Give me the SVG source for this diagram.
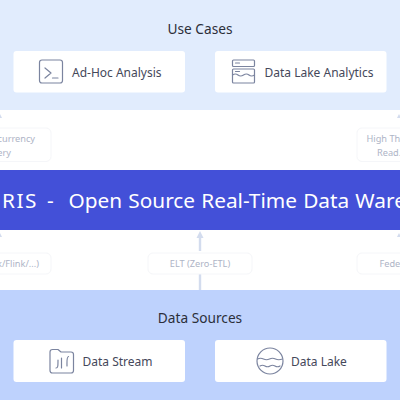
<svg xmlns="http://www.w3.org/2000/svg" width="400" height="400" viewBox="0 0 400 400">
<defs>
<style>
text{font-family:"Noto Sans","Liberation Sans",sans-serif}
.card{fill:#fff}
.head{font-size:13.700px;fill:#2c2f3a;text-anchor:middle}
.lab{font-size:12px;fill:#45485a}
.tag{font-size:9.200px;fill:#aeb4c6}
.pill{fill:#fff;stroke:#f5f6f9;stroke-width:1}
.ic{fill:none;stroke:#7b849f;stroke-width:1.2;stroke-linecap:round;stroke-linejoin:round}
.ln{stroke:#d3dcee;stroke-width:2.400;fill:none}
.ah{fill:#d3dcee}
</style>
</defs>
<rect id="usecase-band" x="0" y="0" width="400" height="110" fill="#e1ecfd"/>
<rect id="middle-band" x="0" y="110" width="400" height="180" fill="#fff"/>
<rect id="source-band" x="0" y="290" width="400" height="110" fill="#bed2fd"/>
<g id="connectors">
<path class="ln" d="M200 290V274M200 251V236"/>
<path class="ah" d="M200 231l3.500 7h-7z"/>
<path class="ah" d="M0 114l2 4h-4z"/>
<path class="ah" d="M399 114l2 4h-4z"/>
<path class="ah" d="M0 233l2 4h-4z"/>
<path class="ah" d="M399 233l2 4h-4z"/>
</g>
<text id="title-use-cases" class="head" x="200" y="34">Use Cases</text>
<g id="ad-hoc">
<rect class="card" x="13.500" y="51" width="171.500" height="41.500" rx="3"/>
<rect class="ic" x="39.500" y="60" width="23" height="23" rx="2.500"/>
<path class="ic" d="M45 68l6 5-6 5M52.500 78H58"/>
<text class="lab" x="72" y="76.500">Ad-Hoc Analysis</text>
</g>
<g id="data-lake-analytics">
<rect class="card" x="215" y="51" width="171.500" height="41.500" rx="3"/>
<rect class="ic" x="232.500" y="60" width="22" height="6.500" rx="1"/>
<rect class="ic" x="232.500" y="69" width="22" height="14" rx="1"/>
<path class="ic" d="M235.500 63h4M235.500 71.500h4M232.500 75q3-2 5.500 0t5.500 0 5.500 0 5.500 0"/>
<text class="lab" x="264.500" y="76.500">Data Lake Analytics</text>
</g>
<g id="concurrency-tag">
<rect class="pill" x="-40" y="128" width="91" height="33.500" rx="5"/>
<text class="tag" x="35" y="142" text-anchor="end">currency</text>
<text class="tag" x="11" y="156" text-anchor="end">ery</text>
</g>
<g id="throughput-tag">
<rect class="pill" x="357" y="128" width="90" height="33.500" rx="5"/>
<text class="tag" x="366.500" y="142">High Thr</text>
<text class="tag" x="377" y="156">Read.</text>
</g>
<g id="doris-banner">
<rect x="0" y="170" width="400" height="60" fill="#4350d8"/>
<text y="208" font-size="20.800px" fill="#fff"><tspan x="2" letter-spacing="1.500">RIS</tspan><tspan x="47">-</tspan><tspan x="68.500" word-spacing="0.800">Open Source Real-Time Data Ware</tspan></text>
</g>
<g id="flink-tag">
<rect class="pill" x="-40" y="253" width="91" height="21" rx="5"/>
<text class="tag" x="39" y="267" text-anchor="end">k/Flink/...)</text>
</g>
<g id="elt-tag">
<rect class="pill" x="148" y="253" width="104" height="21" rx="5"/>
<text class="tag" x="200" y="267" text-anchor="middle">ELT (Zero-ETL)</text>
</g>
<g id="federated-tag">
<rect class="pill" x="357" y="253" width="90" height="21" rx="5"/>
<text class="tag" x="379.500" y="267">Fede</text>
</g>
<text id="title-data-sources" class="head" x="200" y="323">Data Sources</text>
<g id="data-stream">
<rect class="card" x="13.500" y="340" width="171.500" height="42" rx="3"/>
<path class="ic" d="M50 352a2.500 2.500 0 0 1 2.500-2.500h5.500l3 2.500h10a2.500 2.500 0 0 1 2.500 2.500v16a2.500 2.500 0 0 1-2.500 2.500h-18.500a2.500 2.500 0 0 1-2.500-2.500z"/>
<path class="ic" d="M56 368c2 0 2-2 2-8M61.500 368v-10M67 366c0-5-.5-9 1.500-9.500"/>
<text class="lab" x="82.500" y="366">Data Stream</text>
</g>
<g id="data-lake">
<rect class="card" x="215" y="340" width="171.500" height="42" rx="3"/>
<circle class="ic" cx="270" cy="361" r="13"/>
<path class="ic" d="M257.500 359q3-1.500 6 0t6 0 6 0 7 0M260 366q2.500-1.500 5 0t5 0 5 0 5 0"/>
<text class="lab" x="291" y="366">Data Lake</text>
</g>
</svg>
